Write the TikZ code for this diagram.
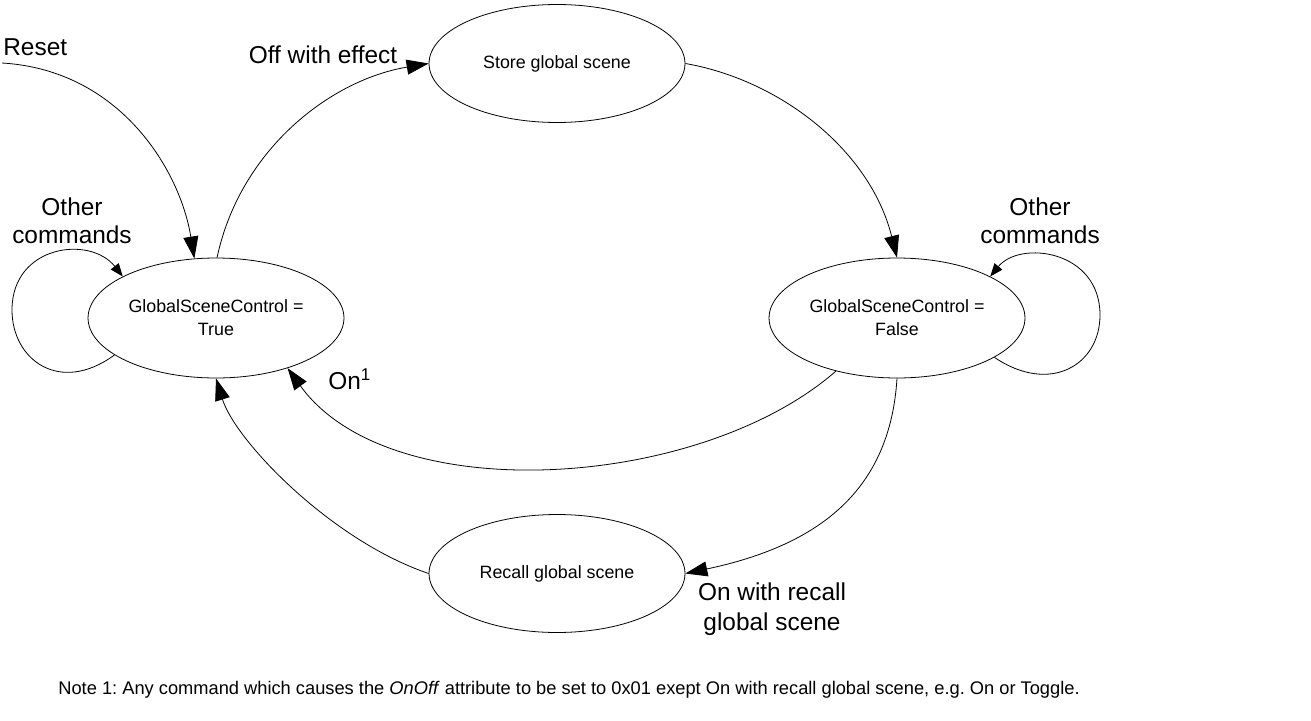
\documentclass[tikz,border=0pt]{standalone}
\usepackage{fontspec}
\setmainfont{Liberation Sans}
\usetikzlibrary{shapes.geometric,arrows.meta}
\frenchspacing
\begin{document}
\begin{tikzpicture}[x=0.02cm,y=-0.02cm,
 state/.style={ellipse,draw,line width=0.45pt,inner sep=0pt,minimum width=5.12cm,minimum height=2.36cm,font=\fontsize{10.15}{13}\selectfont,align=center},
 conn/.style={draw,line width=0.45pt,-{Triangle[length=0.44cm,width=0.3cm]}},
 loopconn/.style={draw,line width=0.45pt,-{Triangle[length=0.26cm,width=0.2cm]}},
 lbl/.style={font=\fontsize{13.9}{16}\selectfont,align=center,inner sep=0pt},
 lblb/.style={font=\fontsize{13.9}{17}\selectfont,align=center,inner sep=0pt},
 note/.style={font=\fontsize{10.4}{12}\selectfont,inner sep=0pt,anchor=west}
]
\useasboundingbox (0,0) rectangle (1311,720);
\node[state] (S) at (557,63.5) {Store global scene};
\node[state, minimum height=2.4cm] (T) at (216,318) {GlobalSceneControl =\\True};
\node[state, minimum height=2.4cm] (F) at (897,318) {GlobalSceneControl =\\False};
\node[state] (R) at (557,573.5) {Recall global scene};
\coordinate (rs) at (2,63);

% Reset
\draw[conn] (rs) .. controls (120,70) and (180,170) .. (T.110);
% Off with effect
\draw[conn] (T.89) .. controls (240,150) and (330,80) .. (S.180);
% Store -> False
\draw[conn] (S.0) .. controls (780,80) and (870,150) .. (F.90);
% self loops
\draw[loopconn] (T.200) .. controls (60,395) and (12,360) .. (12,310) .. controls (12,245) and (90,235) .. (T.156);
\draw[loopconn] (F.-22) .. controls (1050,395) and (1100,365) .. (1100,315) .. controls (1100,250) and (1020,240) .. (F.24);
% On1
\draw[conn] (F.221) .. controls (700,490) and (390,510) .. (T.-35);
% False -> Recall
\draw[conn] (F.270) .. controls (890,490) and (820,545) .. (R.0);
% Recall -> True
\draw[conn] (R.180) .. controls (330,540) and (235,440) .. (T.270);

% labels
\node[lbl, anchor=west] (lreset) at (3,47) {Reset};
\node[lbl] (loff) at (323,55) {Off with effect};
\node[lbl] (lotherL) at (72,221) {Other\\commands};
\node[lbl] (lotherR) at (1040,221) {Other\\commands};
\node[lbl, anchor=west] (lon) at (328,379) {On\textsuperscript{1}};
\node[lblb] (lrecall) at (772,609) {On with recall\\global scene};
\node[note] (n) at (58,690) {Note 1: Any command which causes the \textit{OnOff} attribute to be set to 0x01 exept On with recall global scene, e.g. On or Toggle.};
\end{tikzpicture}
\end{document}
